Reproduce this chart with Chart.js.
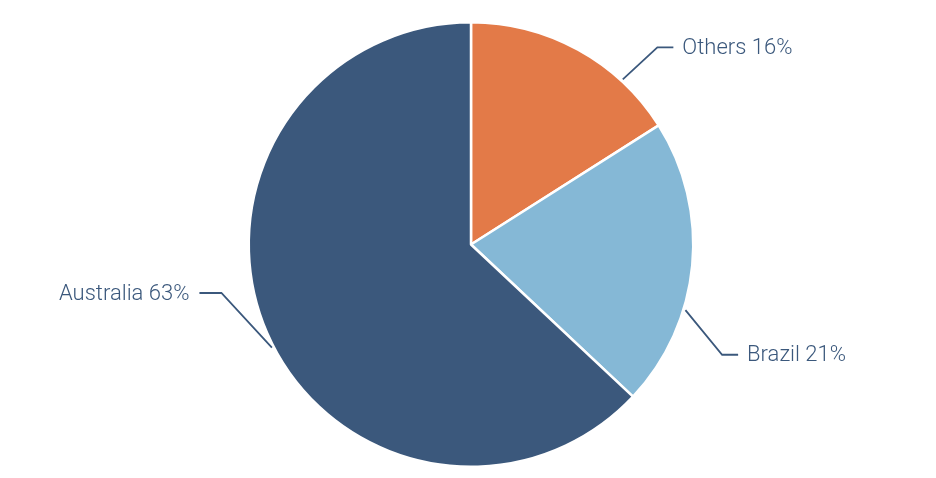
<!DOCTYPE html>
<html>
<head>
<meta charset="utf-8">
<script src="https://cdn.jsdelivr.net/npm/chart.js@4/dist/chart.umd.min.js"></script>
<style>
  html, body { margin: 0; padding: 0; background: #fff; }
  #wrap { width: 936px; height: 478px; }
</style>
</head>
<body>
<div id="wrap"><canvas id="pie"></canvas></div>
<script>
const categories = ['Others', 'Brazil', 'Australia'];
const shares = [16, 21, 63];
const sliceColors = ['#E37A48', '#85B8D6', '#3B587C'];

// where each label's leader line sits, relative to the slice's mid angle (degrees)
const leaderLayout = [
  { startShift: 13.8, elbowShift: 14.6, elbowOut: 49 },
  { startShift: 11.6, elbowShift: 18.3, elbowOut: 52 },
  { startShift: -4, elbowShift: 12.4, elbowOut: 32 },
];

const leaderLabels = {
  id: 'leaderLabels',
  afterDatasetsDraw(chart) {
    const ctx = chart.ctx;
    const meta = chart.getDatasetMeta(0);
    ctx.save();
    ctx.strokeStyle = '#3B587C';
    ctx.lineWidth = 1.8;
    ctx.fillStyle = '#3B587C';
    ctx.font = '300 22px Roboto';
    ctx.textBaseline = 'middle';
    meta.data.forEach((arc, i) => {
      const p = arc.getProps(['x', 'y', 'startAngle', 'endAngle', 'outerRadius'], true);
      const mid = (p.startAngle + p.endAngle) / 2;
      const lay = leaderLayout[i];
      const a0 = mid + lay.startShift * Math.PI / 180;
      const a1 = mid + lay.elbowShift * Math.PI / 180;
      const sx = p.x + Math.cos(a0) * (p.outerRadius + 2);
      const sy = p.y + Math.sin(a0) * (p.outerRadius + 2);
      const ex = p.x + Math.cos(a1) * (p.outerRadius + lay.elbowOut);
      const ey = p.y + Math.sin(a1) * (p.outerRadius + lay.elbowOut);
      const right = ex >= p.x;
      const hx = ex + (right ? 16 : -22);
      ctx.beginPath();
      ctx.moveTo(sx, sy);
      ctx.lineTo(ex, ey);
      ctx.lineTo(hx, ey);
      ctx.stroke();
      ctx.textAlign = right ? 'left' : 'right';
      ctx.fillText(categories[i] + ' ' + shares[i] + '%', hx + (right ? 9 : -10), ey + 1);
    });
    ctx.restore();
  }
};

new Chart(document.getElementById('pie'), {
  type: 'pie',
  data: {
    labels: categories,
    datasets: [{
      data: shares,
      backgroundColor: sliceColors,
      borderColor: '#ffffff',
      borderWidth: 2.5,
    }],
  },
  options: {
    responsive: true,
    maintainAspectRatio: false,
    animation: false,
    layout: { padding: { top: 21, bottom: 10, left: 6, right: 0 } },
    plugins: {
      legend: { display: false },
      tooltip: { enabled: false },
    },
  },
  plugins: [leaderLabels],
});
</script>
</body>
</html>
